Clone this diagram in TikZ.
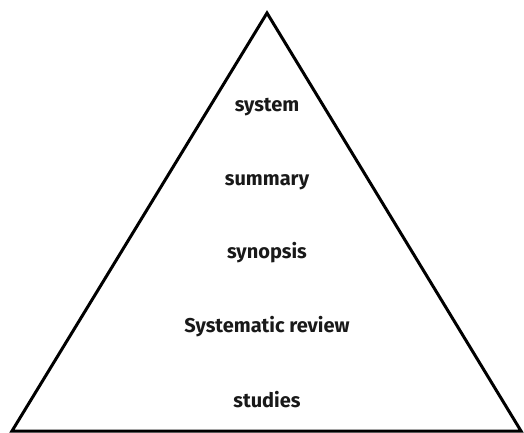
\documentclass[tikz,border=0pt]{standalone}
\usepackage{fontspec}
\setmainfont{Fira Sans}
\usetikzlibrary{positioning}
\begin{document}
\begin{tikzpicture}[
        x=1pt, y=-1pt,
        every node/.style={font=\bfseries\fontsize{20}{24}\selectfont, text=black!90}
    ]
        \useasboundingbox (0,0) rectangle (524,433);
        % Các đỉnh của tam giác
        \coordinate (apex) at (267,13);
        \coordinate (left) at (12,431);
        \coordinate (right) at (521,431);
        \draw[line width=3pt, line join=miter] (apex) -- (left) -- (right) -- cycle;

        % Các tầng
        \node (system) at (267,107) {system};
        \node (summary) at (267,182) {summary};
        \node (synopsis) at (267,253) {synopsis};
        \node (review) at (267,327) {Systematic review};
        \node (studies) at (267,400) {studies};
    \end{tikzpicture}
\end{document}
